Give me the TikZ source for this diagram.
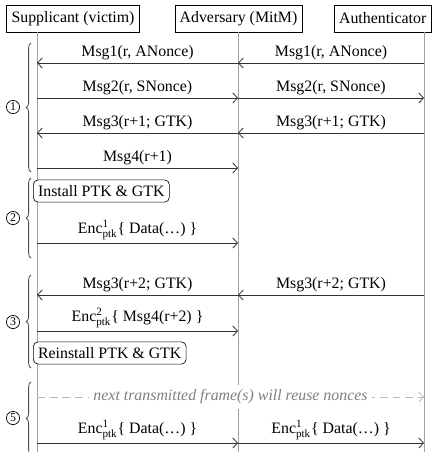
\documentclass[tikz,border=0pt]{standalone}
\usepackage{amsmath}
\usepackage{fontspec}
\setmainfont{Liberation Serif}
\usetikzlibrary{arrows.meta,decorations.pathreplacing}
\tikzset{
  party/.style={draw, minimum height=17pt, inner xsep=3pt, fill=white},
  life/.style={gray!75, line width=0.5pt},
  msg/.style={-{Straight Barb[length=3pt,width=6.5pt]}, black!80, line width=0.5pt},
  lbl/.style={above, inner sep=1.5pt, text=black},
  act/.style={draw, rounded corners=3pt, minimum height=14pt, inner xsep=3pt, fill=white},
  phase/.style={decorate, decoration={brace, amplitude=3pt}, black!70, line width=0.5pt},
  note/.style={-{Straight Barb[length=3pt,width=6.5pt]}, gray!55, line width=0.5pt, dash pattern=on 5pt off 3pt},
  num/.style={circle, draw, line width=0.45pt, inner sep=0pt, minimum size=8.3pt, font=\fontsize{7.5}{8}\selectfont}
}
\newcommand{\encp}[2]{Enc$^{\text{#1}}_{\text{ptk}}$\{ #2 \}}
\begin{document}
\begin{tikzpicture}[x=0.63pt, y=0.63pt]
        \useasboundingbox (0,0) rectangle (435,-452);
        %% parties and lifelines
        \node[party] (sup) at (73,-18.5) {Supplicant (victim)};
        \node[party] (adv) at (238.5,-18.5) {Adversary (MitM)};
        \node[party, anchor=west] (aut) at (334,-18.5) {Authenticator};
        \coordinate (S) at (37,0);
        \coordinate (A) at (238,0);
        \coordinate (U) at (424,0);
        \coordinate (bot) at (0,-456);
        \draw[life] (sup.south -| S) -- (S |- bot);
        \draw[life] (adv.south -| A) -- (A |- bot);
        \draw[life] (aut.south -| U) -- (U |- bot);
        %% message rows
        \coordinate (r1) at (0,-63);
        \coordinate (r2) at (0,-98);
        \coordinate (r3) at (0,-133);
        \coordinate (r4) at (0,-168);
        \coordinate (r5) at (0,-243);
        \coordinate (r6) at (0,-295);
        \coordinate (r7) at (0,-331);
        \coordinate (r8) at (0,-397);
        \coordinate (r9) at (0,-443);
        %% phase 1
        \draw[msg] (A |- r1) -- node[lbl] {Msg1(r, ANonce)} (S |- r1);
        \draw[msg] (U |- r1) -- node[lbl] {Msg1(r, ANonce)} (A |- r1);
        \draw[msg] (S |- r2) -- node[lbl] {Msg2(r, SNonce)} (A |- r2);
        \draw[msg] (A |- r2) -- node[lbl] {Msg2(r, SNonce)} (U |- r2);
        \draw[msg] (A |- r3) -- node[lbl] {Msg3(r+1; GTK)} (S |- r3);
        \draw[msg] (U |- r3) -- node[lbl] {Msg3(r+1; GTK)} (A |- r3);
        \draw[msg] (S |- r4) -- node[lbl] {Msg4(r+1)} (A |- r4);
        %% phase 2
        \node[act, anchor=west] (inst) at (33,-191) {Install PTK \& GTK};
        \draw[msg] (S |- r5) -- node[lbl] {\encp{1}{Data(\dots)}} (A |- r5);
        %% phase 3
        \draw[msg] (A |- r6) -- node[lbl] {Msg3(r+2; GTK)} (S |- r6);
        \draw[msg] (U |- r6) -- node[lbl] {Msg3(r+2; GTK)} (A |- r6);
        \draw[msg] (S |- r7) -- node[lbl] {\encp{2}{Msg4(r+2)}} (A |- r7);
        \node[act, anchor=west] (reinst) at (33,-353) {Reinstall PTK \& GTK};
        %% phase 5
        \draw[note] (S |- r8) -- node[fill=white, inner sep=3pt, text=gray, font=\itshape] {next transmitted frame(s) will reuse nonces} (U |- r8);
        \draw[msg] (S |- r9) -- node[lbl] {\encp{1}{Data(\dots)}} (A |- r9);
        \draw[msg] (A |- r9) -- node[lbl] {\encp{1}{Data(\dots)}} (U |- r9);
        %% braces and phase numbers
        \draw[phase] (31,-172) -- (31,-43);
        \draw[phase] (31,-258) -- (31,-178);
        \draw[phase] (31,-368) -- (31,-275);
        \draw[phase] (31,-455) -- (31,-382);
        \node[num] (p1) at (13,-107) {1};
        \node[num] (p2) at (13,-218) {2};
        \node[num] (p3) at (13,-322) {3};
        \node[num] (p5) at (13,-418) {5};
      \end{tikzpicture}
\end{document}
